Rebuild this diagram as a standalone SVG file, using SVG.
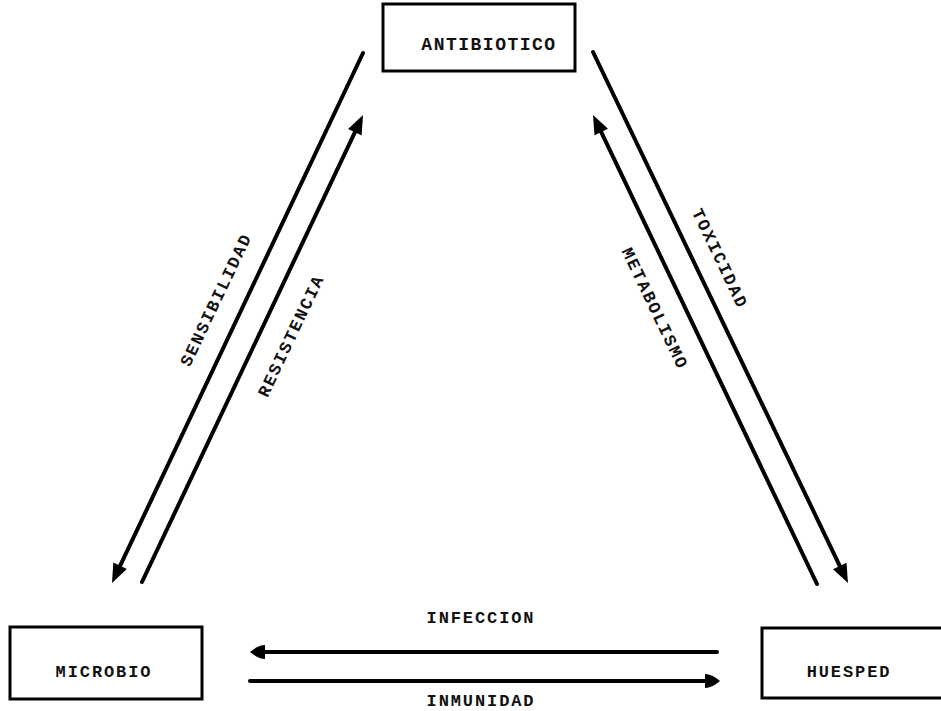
<svg xmlns="http://www.w3.org/2000/svg" width="941" height="711" viewBox="0 0 941 711">
<style>
.box{fill:#fff;stroke:#000;stroke-width:3}
.t{font-family:"Liberation Mono","DejaVu Sans Mono",monospace;font-weight:bold;font-size:17px;letter-spacing:1.9px;fill:#111;text-anchor:middle}
.big{font-size:18px;letter-spacing:1.5px}
.ln{fill:none;stroke:#000;stroke-width:4;stroke-linecap:round}
.arr{marker-end:url(#head)}
.arrs{marker-end:url(#headS)}
</style>
<defs>
<marker id="head" viewBox="0 -8 20 16" refX="0" refY="0" markerWidth="20" markerHeight="16" markerUnits="userSpaceOnUse" orient="auto" overflow="visible">
<path d="M-1,-7.5 L18,0 L-1,7.5 Z" fill="#000"/>
</marker>
<marker id="headS" viewBox="0 -8 16 16" refX="0" refY="0" markerWidth="16" markerHeight="16" markerUnits="userSpaceOnUse" orient="auto" overflow="visible">
<path d="M-1,-7 Q6,-7 14,0 Q6,7 -1,7 Z" fill="#000"/>
</marker>
</defs>
<rect width="941" height="711" fill="#fff"/>
<g id="antibiotico">
<rect class="box" x="383" y="4" width="192" height="67"/>
<text class="t big" x="489" y="50">ANTIBIOTICO</text>
</g>
<g id="microbio">
<rect class="box" x="10" y="627" width="192" height="72"/>
<text class="t" x="104" y="677">MICROBIO</text>
</g>
<g id="huesped">
<rect class="box" x="762" y="628" width="195" height="70"/>
<text class="t" x="849" y="677">HUESPED</text>
</g>
<g id="connectors">
<path class="ln arr" d="M363,53 L119.7,566.7"/>
<path class="ln arr" d="M142,582 L355.3,131.3"/>
<path class="ln arr" d="M593,52 L840.2,566.8"/>
<path class="ln arr" d="M817,584 L600.8,131.2"/>
<path class="ln arrs" d="M717,652 L264,652"/>
<path class="ln arrs" d="M250,681 L706,681"/>
<text class="t" transform="translate(221,302) rotate(-64.6)">SENSIBILIDAD</text>
<text class="t" transform="translate(296,338) rotate(-64.6)">RESISTENCIA</text>
<text class="t" transform="translate(715,261) rotate(64.3)">TOXICIDAD</text>
<text class="t" transform="translate(650,311) rotate(64.3)">METABOLISMO</text>
<text class="t" x="481" y="623">INFECCION</text>
<text class="t" x="481" y="706">INMUNIDAD</text>
</g>
</svg>
